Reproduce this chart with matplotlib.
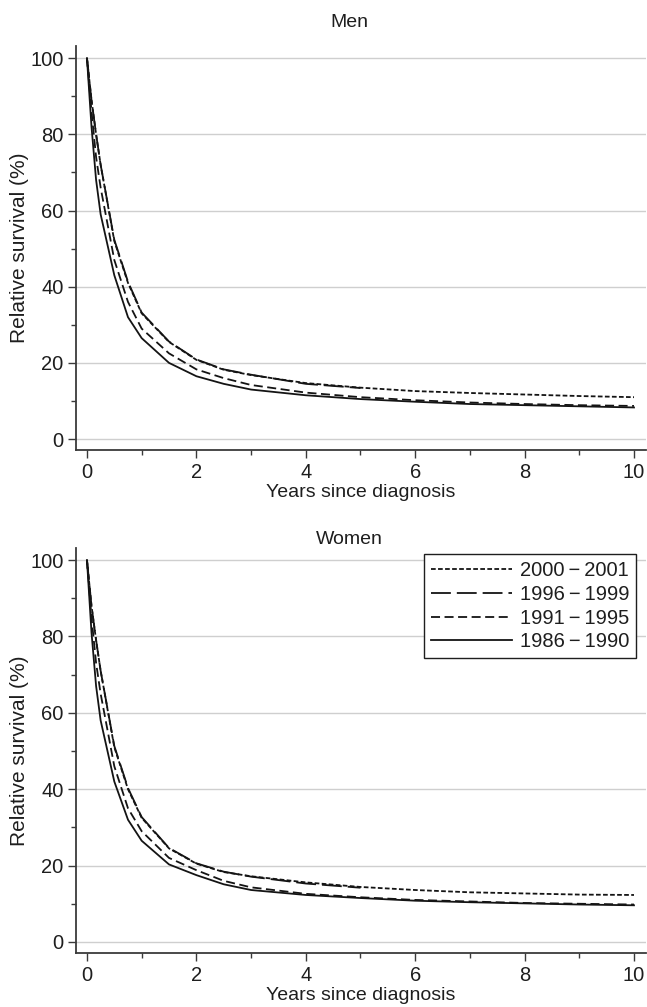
import matplotlib
matplotlib.use("Agg")
import matplotlib.pyplot as plt
from matplotlib.ticker import MultipleLocator

plt.rcParams["font.family"] = ["Liberation Sans", "DejaVu Sans"]

# Years since diagnosis at which survival is read
years = [0, 0.083, 0.167, 0.25, 0.5, 0.75, 1, 1.5, 2, 2.5, 3, 4, 5, 6, 7, 8, 9, 10]
years_5 = years[:13]  # 1996-1999 cohort only followed up to 5 years

periods = ["2000\u2009\u2212\u20092001", "1996\u2009\u2212\u20091999",
           "1991\u2009\u2212\u20091995", "1986\u2009\u2212\u20091990"]

# Men
men_2000 = [100, 89, 80, 72, 52, 41, 33, 25.5, 20.8, 18.2, 16.8, 14.7, 13.5, 12.6, 12.1, 11.7, 11.3, 11.0]
men_1996 = [100, 89, 80, 72, 52.3, 41.3, 33.2, 25.6, 20.9, 18.3, 16.9, 14.5, 13.4]
men_1991 = [100, 86, 74, 66, 47, 36, 29, 22.5, 18.3, 16, 14.2, 12.2, 11, 10.2, 9.6, 9.2, 8.9, 8.7]
men_1986 = [100, 82, 68, 59, 43, 32, 26.5, 20, 16.5, 14.5, 13, 11.5, 10.5, 9.8, 9.2, 8.9, 8.6, 8.3]

# Women
women_2000 = [100, 88, 79, 71, 51, 40, 32.5, 24.5, 20.5, 18.3, 17.2, 15.6, 14.4, 13.6, 13.0, 12.7, 12.4, 12.3]
women_1996 = [100, 88, 79, 71, 51.3, 40.3, 32.7, 24.6, 20.6, 18.4, 17.1, 15.3, 14.2]
women_1991 = [100, 85, 73, 65, 46, 35, 29, 22, 18.8, 16, 14.3, 12.6, 11.7, 11.0, 10.6, 10.2, 10.0, 9.8]
women_1986 = [100, 81, 67, 58, 42, 32, 26.5, 20.3, 17.5, 15.1, 13.6, 12.3, 11.5, 10.8, 10.4, 10.1, 9.8, 9.6]

line_col = "#141414"
lw = 1.3
styles = [(0, (2.6, 1.3)), (0, (11, 3.3)), (0, (5, 2.5)), "-"]

fig = plt.figure(figsize=(6.47, 10.07), dpi=100)
ax1 = fig.add_axes([0.1175, 0.553, 0.881, 0.401])
ax2 = fig.add_axes([0.1175, 0.0536, 0.881, 0.402])


def draw_panel(ax, series, title, title_pad):
    xs = [years, years_5, years, years]
    for x, y, ls, lab in zip(xs, series, styles, periods):
        ax.plot(x, y, color=line_col, lw=lw, linestyle=ls, label=lab)

    ax.set_xlim(-0.2, 10.22)
    ax.set_ylim(-2.9, 103.1)
    ax.xaxis.set_major_locator(MultipleLocator(2))
    ax.xaxis.set_minor_locator(MultipleLocator(1))
    ax.yaxis.set_major_locator(MultipleLocator(20))
    ax.yaxis.set_minor_locator(MultipleLocator(10))
    ax.yaxis.grid(True, which="major", color="#cfcfcf", lw=1)
    ax.set_axisbelow(True)

    for s in ["top", "right"]:
        ax.spines[s].set_visible(False)
    for s in ["left", "bottom"]:
        ax.spines[s].set_color("#3a3a3a")
        ax.spines[s].set_linewidth(1.3)

    ax.tick_params(which="major", length=6, width=1, color="#3a3a3a",
                   labelsize=14.5, labelcolor="#1e1e1e", pad=3)
    ax.tick_params(which="minor", length=3.5, width=1, color="#3a3a3a")

    ax.set_xlabel("Years since diagnosis", fontsize=14, color="#1e1e1e", labelpad=2)
    ax.set_ylabel("Relative survival (%)", fontsize=15, color="#1e1e1e", labelpad=1)
    ax.set_title(title, fontsize=14, color="#1e1e1e", pad=title_pad, x=0.48)


draw_panel(ax1, [men_2000, men_1996, men_1991, men_1986], "Men", 14)
draw_panel(ax2, [women_2000, women_1996, women_1991, women_1986], "Women", 1)

leg = ax2.legend(loc="upper right", bbox_to_anchor=(0.983, 0.986), borderaxespad=0,
                 fontsize=14.5, handlelength=4.0, handletextpad=0.4, labelspacing=0.24,
                 borderpad=0.35, fancybox=False, framealpha=1, edgecolor="#1e1e1e")
leg.get_frame().set_linewidth(1.0)
for t in leg.get_texts():
    t.set_color("#1e1e1e")

fig.savefig("out.png", dpi=100)
